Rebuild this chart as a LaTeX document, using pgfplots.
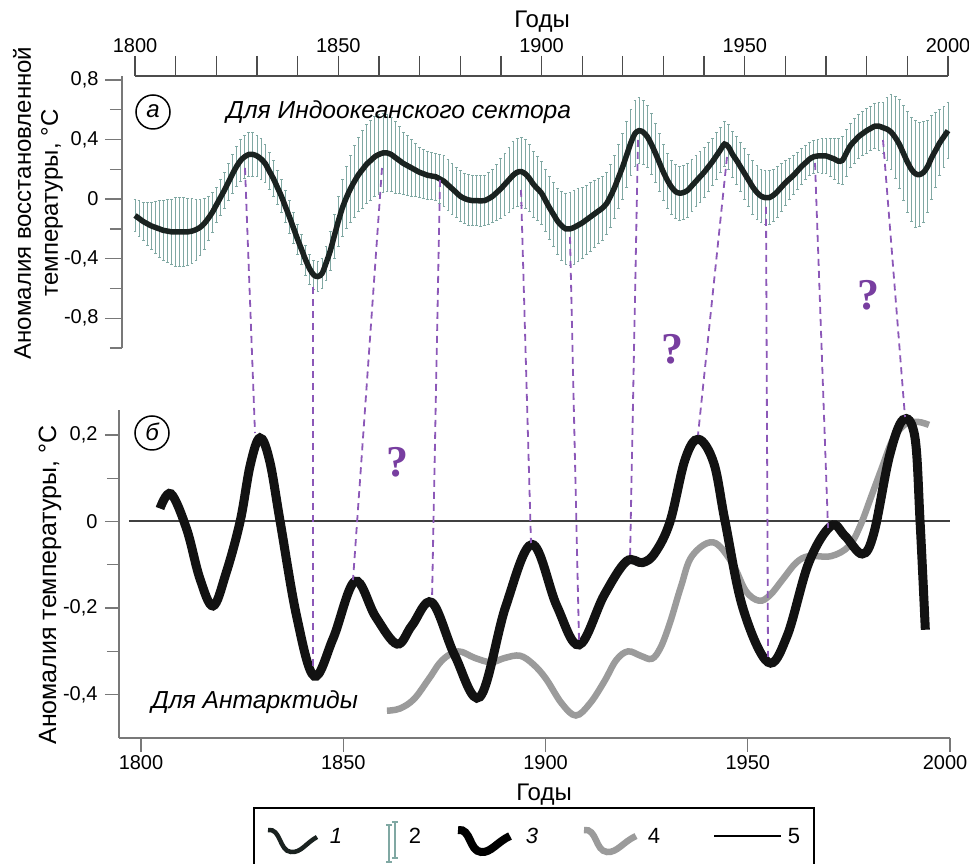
\documentclass[border=0pt]{standalone}
\usepackage{fontspec}
\setmainfont{Liberation Sans}
\newfontfamily\serifq{Liberation Serif}
\usepackage{pgfplots}
\usepackage{pgfplotstable}
\pgfplotsset{compat=1.18}

\definecolor{lineA}{RGB}{26,34,32}
\definecolor{errA}{RGB}{128,168,163}
\definecolor{grayB}{RGB}{155,155,155}
\definecolor{purp}{RGB}{140,88,184}
\definecolor{qpurp}{RGB}{120,62,160}
\definecolor{axgray}{RGB}{120,120,120}

% panel a: year, anomaly, error
\pgfplotstableread{
yr    t      e
1800 -0.11  0.11
1801 -0.13  0.12
1802 -0.15  0.13
1803 -0.165 0.145
1804 -0.18  0.16
1805 -0.19  0.175
1806 -0.20  0.19
1807 -0.21  0.20
1808 -0.215 0.21
1809 -0.22  0.22
1810 -0.22  0.23
1811 -0.22  0.23
1812 -0.22  0.23
1813 -0.22  0.225
1814 -0.215 0.22
1815 -0.205 0.205
1816 -0.19  0.19
1817 -0.165 0.17
1818 -0.13  0.15
1819 -0.09  0.135
1820 -0.04  0.12
1821  0.01  0.12
1822  0.06  0.12
1823  0.115 0.125
1824  0.17  0.13
1825  0.22  0.135
1826  0.26  0.14
1827  0.285 0.145
1828  0.30  0.15
1829  0.30  0.145
1830  0.29  0.14
1831  0.27  0.135
1832  0.24  0.13
1833  0.19  0.125
1834  0.14  0.12
1835  0.08  0.115
1836  0.02  0.11
1837 -0.05  0.11
1838 -0.12  0.11
1839 -0.195 0.105
1840 -0.27  0.10
1841 -0.34  0.10
1842 -0.41  0.10
1843 -0.47  0.10
1844 -0.51  0.10
1845 -0.52  0.10
1846 -0.50  0.10
1847 -0.43  0.115
1848 -0.35  0.13
1849 -0.25  0.15
1850 -0.15  0.17
1851 -0.06  0.19
1852  0.01  0.21
1853  0.07  0.225
1854  0.12  0.24
1855  0.165 0.25
1856  0.20  0.26
1857  0.235 0.265
1858  0.26  0.27
1859  0.285 0.27
1860  0.30  0.27
1861  0.31  0.265
1862  0.31  0.26
1863  0.30  0.25
1864  0.28  0.24
1865  0.26  0.225
1866  0.24  0.21
1867  0.225 0.20
1868  0.21  0.19
1869  0.195 0.18
1870  0.18  0.17
1871  0.17  0.165
1872  0.16  0.16
1873  0.155 0.16
1874  0.15  0.16
1875  0.135 0.165
1876  0.12  0.17
1877  0.095 0.17
1878  0.07  0.17
1879  0.045 0.17
1880  0.02  0.17
1881  0.005 0.17
1882 -0.005 0.17
1883 -0.01  0.17
1884 -0.01  0.17
1885 -0.012 0.17
1886 -0.01  0.17
1887  0.003 0.175
1888  0.02  0.18
1889  0.045 0.19
1890  0.07  0.20
1891  0.10  0.21
1892  0.13  0.22
1893  0.16  0.225
1894  0.18  0.23
1895  0.185 0.23
1896  0.17  0.23
1897  0.14  0.225
1898  0.10  0.22
1899  0.07  0.215
1900  0.04  0.21
1901 -0.01  0.21
1902 -0.06  0.21
1903 -0.105 0.215
1904 -0.15  0.22
1905 -0.18  0.23
1906 -0.20  0.24
1907 -0.20  0.245
1908 -0.19  0.25
1909 -0.175 0.245
1910 -0.16  0.24
1911 -0.14  0.235
1912 -0.12  0.23
1913 -0.10  0.225
1914 -0.08  0.22
1915 -0.06  0.215
1916 -0.03  0.21
1917  0.02  0.21
1918  0.08  0.21
1919  0.15  0.215
1920  0.22  0.22
1921  0.30  0.22
1922  0.38  0.22
1923  0.44  0.22
1924  0.46  0.22
1925  0.45  0.215
1926  0.42  0.21
1927  0.37  0.205
1928  0.31  0.20
1929  0.245 0.195
1930  0.18  0.19
1931  0.125 0.185
1932  0.08  0.18
1933  0.05  0.18
1934  0.04  0.18
1935  0.045 0.18
1936  0.06  0.18
1937  0.09  0.175
1938  0.12  0.17
1939  0.15  0.17
1940  0.18  0.17
1941  0.215 0.165
1942  0.25  0.16
1943  0.29  0.155
1944  0.33  0.15
1945  0.37  0.15
1946  0.35  0.15
1947  0.30  0.155
1948  0.26  0.16
1949  0.215 0.165
1950  0.17  0.17
1951  0.125 0.175
1952  0.08  0.18
1953  0.045 0.18
1954  0.02  0.18
1955  0.01  0.18
1956  0.01  0.18
1957  0.025 0.175
1958  0.05  0.17
1959  0.08  0.16
1960  0.11  0.15
1961  0.135 0.14
1962  0.16  0.13
1963  0.19  0.125
1964  0.22  0.12
1965  0.245 0.115
1966  0.27  0.11
1967  0.285 0.11
1968  0.29  0.11
1969  0.29  0.115
1970  0.29  0.12
1971  0.28  0.13
1972  0.27  0.14
1973  0.255 0.15
1974  0.26  0.16
1975  0.31  0.155
1976  0.36  0.15
1977  0.39  0.15
1978  0.42  0.15
1979  0.44  0.15
1980  0.46  0.15
1981  0.475 0.15
1982  0.49  0.15
1983  0.49  0.16
1984  0.48  0.17
1985  0.47  0.21
1986  0.45  0.25
1987  0.415 0.275
1988  0.37  0.30
1989  0.31  0.32
1990  0.25  0.34
1991  0.20  0.35
1992  0.17  0.36
1993  0.165 0.35
1994  0.18  0.34
1995  0.22  0.31
1996  0.28  0.28
1997  0.33  0.25
1998  0.38  0.22
1999  0.42  0.205
2000  0.46  0.19
}\tblA

% panel b: Antarctic reconstruction (3)
\pgfplotstableread{
yr     t
1804.7  0.03
1807.4  0.064
1811.3 -0.018
1814.5 -0.13
1817.8 -0.195
1821.0 -0.12
1824.5  0.0
1827.0  0.13
1829.4  0.193
1831.8  0.14
1834.4  0.0
1838.5 -0.22
1842.8 -0.357
1847.5 -0.27
1852.9 -0.138
1858.0 -0.22
1863.3 -0.283
1867.0 -0.24
1871.9 -0.187
1877.6 -0.31
1883.8 -0.405
1890.2 -0.195
1896.7 -0.053
1902.8 -0.195
1908.3 -0.285
1914.5 -0.17
1920.0 -0.092
1924.0 -0.095
1927.1 -0.072
1930.8  0.0
1934.5  0.143
1937.8  0.19
1941.6  0.135
1944.4  0.0
1948.8 -0.2
1955.0 -0.325
1959.7 -0.265
1965.1 -0.095
1970.6 -0.01
1974.0 -0.033
1978.3 -0.075
1981.2 -0.026
1985.0  0.15
1988.4  0.235
1991.3  0.196
1992.6  0.0
1993.9 -0.25
}\tblB

% panel b: gray series (4)
\pgfplotstableread{
yr     t
1860.8 -0.437
1864.0 -0.432
1867.5 -0.41
1871.2 -0.363
1874.5 -0.32
1878.4 -0.30
1882.5 -0.315
1886.5 -0.325
1890.0 -0.315
1893.7 -0.31
1897.0 -0.33
1900.1 -0.363
1904.0 -0.42
1907.5 -0.448
1911.0 -0.42
1914.5 -0.37
1917.5 -0.32
1920.4 -0.30
1923.5 -0.31
1926.3 -0.317
1928.5 -0.29
1930.8 -0.233
1933.5 -0.15
1936.2 -0.08
1941.4 -0.048
1946.1 -0.095
1949.5 -0.16
1952.8 -0.183
1955.5 -0.17
1958.7 -0.133
1962.0 -0.095
1965.1 -0.08
1970.6 -0.08
1975.0 -0.057
1977.8 -0.01
1980.5  0.057
1983.0  0.12
1985.9  0.19
1989.0  0.225
1992.1  0.23
1994.8  0.223
}\tblC

\begin{document}
\begin{tikzpicture}[x=1pt,y=1pt]
\path[use as bounding box] (0,0) rectangle (969,864);

% ---- panel a: top x axis only
\begin{axis}[
  at={(122pt,516pt)}, anchor=south west, scale only axis,
  width=826pt, height=272pt,
  xmin=1796.8, xmax=2000, ymin=-1.0, ymax=0.827,
  axis x line*=top, axis y line=none,
  x axis line style={draw=none},
  xtick={1800,1850,1900,1950,2000},
  xticklabels={1800,1850,1900,1950,2000},
  minor xtick={1810,1820,...,1990},
  tick align=outside,
  major tick length=20pt, minor tick length=20pt,
  every tick/.style={draw=black!70, line width=1.3pt},
  xticklabel style={font=\fontsize{20}{24}\selectfont},
]
\draw[black!70, line width=1.6pt] (axis cs:1800,0.827) -- (axis cs:2000,0.827);
\end{axis}

% ---- panel a: data + y axis
\begin{axis}[
  at={(122pt,516pt)}, anchor=south west, scale only axis,
  width=826pt, height=272pt,
  xmin=1796.8, xmax=2000, ymin=-1.0, ymax=0.827,
  axis x line=none, axis y line*=left,
  y axis line style={draw=axgray, line width=1.6pt},
  ytick={-0.8,-0.4,0,0.4,0.8},
  yticklabels={{-0,8},{-0,4},0,{0,4},{0,8}},
  minor ytick={-1,-0.6,-0.2,0.2,0.6},
  tick align=outside,
  major tick length=17pt, minor tick length=12pt,
  every tick/.style={draw=axgray, line width=1.3pt},
  yticklabel style={font=\fontsize{20}{24}\selectfont, xshift=-3pt},
  clip=false,
]
\addplot[draw=none, mark=none,
  error bars/.cd, y dir=both, y explicit,
  error bar style={errA, line width=0.9pt},
  error mark options={errA, rotate=90, mark size=1.4pt, line width=0.9pt}]
  table[x=yr, y=t, y error=e] {\tblA};
\addplot[lineA, line width=5.5pt, smooth, tension=0.5] table[x=yr, y=t] {\tblA};
\end{axis}

% ---- panel b
\begin{axis}[
  at={(119pt,126pt)}, anchor=south west, scale only axis,
  width=831pt, height=328pt,
  xmin=1794.56, xmax=2000, ymin=-0.5, ymax=0.2575,
  axis x line*=bottom, axis y line*=left,
  axis line style={draw=axgray, line width=1.6pt},
  xtick={1800,1850,1900,1950,2000},
  xticklabels={1800,1850,1900,1950,\hspace*{-10pt}2000},
  ytick={-0.4,-0.2,0,0.2},
  yticklabels={{-0,4},{-0,2},0,{0,2}},
  minor ytick={-0.3,-0.1,0.1},
  tick align=outside,
  major tick length=14pt, minor tick length=12pt,
  every tick/.style={draw=axgray, line width=1.3pt},
  ticklabel style={font=\fontsize{20}{24}\selectfont},
  yticklabel style={xshift=-4pt},
  clip=false,
]
\addplot[black!75, line width=2pt] coordinates {(1797,0) (2000,0)};
\addplot[grayB, line width=6.5pt, smooth, tension=0.6] table[x=yr, y=t] {\tblC};
\addplot[black!93, line width=9pt, smooth, tension=0.6] table[x=yr, y=t] {\tblB};
\end{axis}

% ---- connecting dashed lines
\begin{scope}[purp, line width=1.8pt, dash pattern=on 7pt off 5pt]
\draw (245,696) -- (255,431);
\draw (313,577) -- (313,197);
\draw (382,696) -- (353,284);
\draw (440,684) -- (432,264);
\draw (521,674) -- (531,321);
\draw (570,627) -- (579,224);
\draw (638,724) -- (630,304);
\draw (727,707) -- (698,429);
\draw (766,657) -- (768,207);
\draw (815,701) -- (828,336);
\draw (883,724) -- (905,447);
\end{scope}

% ---- question marks
\node[qpurp, font=\serifq\bfseries\fontsize{44}{44}\selectfont] at (397,402) {?};
\node[qpurp, font=\serifq\bfseries\fontsize{44}{44}\selectfont] at (672,515) {?};
\node[qpurp, font=\serifq\bfseries\fontsize{44}{44}\selectfont] at (868,569) {?};

% ---- texts
\node[font=\fontsize{24}{26}\selectfont] at (542,842) {Годы};
\node[font=\fontsize{24}{26}\selectfont] at (544,69) {Годы};
\node[rotate=90, align=center, font=\fontsize{24}{27}\selectfont] at (38,661)
  {Аномалия восстановленной\\температуры, °С};
\node[rotate=90, font=\fontsize{25}{27}\selectfont] at (50,279)
  {Аномалия температуры, °С};
\node[anchor=west, font=\itshape\fontsize{24.6}{28}\selectfont] at (223,752)
  {Для Индоокеанского сектора};
\node[anchor=west, font=\itshape\fontsize{24.6}{28}\selectfont] at (148,162)
  {Для Антарктиды};
\draw[line width=1.5pt] (153,752) circle (17);
\node[font=\itshape\fontsize{24}{24}\selectfont] at (153,753) {а};
\draw[line width=1.5pt] (152,431) circle (17);
\node[font=\itshape\fontsize{24}{24}\selectfont] at (152,432) {б};

% ---- legend
\draw[line width=1.8pt] (254,-10) rectangle (814,56);
\draw[lineA, line width=4.5pt] (268,34) .. controls (281,36) and (279,13) .. (291,12)
  .. controls (301,11) and (306,21) .. (317,27);
\node[font=\itshape\fontsize{22}{22}\selectfont] at (336,28) {1};
\draw[errA, line width=1.3pt] (389,2) -- (389,39) (386,39) -- (392,39) (386,2) -- (392,2);
\draw[errA, line width=1.3pt] (395,6) -- (395,42) (392,42) -- (398,42) (392,6) -- (398,6);
\node[font=\fontsize{22}{22}\selectfont] at (415,28) {2};
\draw[black, line width=8pt] (458,34) .. controls (471,36) and (469,13) .. (481,12)
  .. controls (491,11) and (497,22) .. (510,28);
\node[font=\itshape\fontsize{22}{22}\selectfont] at (532,28) {3};
\draw[grayB, line width=6.5pt] (584,34) .. controls (597,36) and (595,13) .. (607,12)
  .. controls (617,11) and (623,22) .. (636,28);
\node[font=\fontsize{22}{22}\selectfont] at (654,28) {4};
\draw[black, line width=2pt] (714,28) -- (781,28);
\node[font=\fontsize{22}{22}\selectfont] at (794,28) {5};
\end{tikzpicture}
\end{document}
